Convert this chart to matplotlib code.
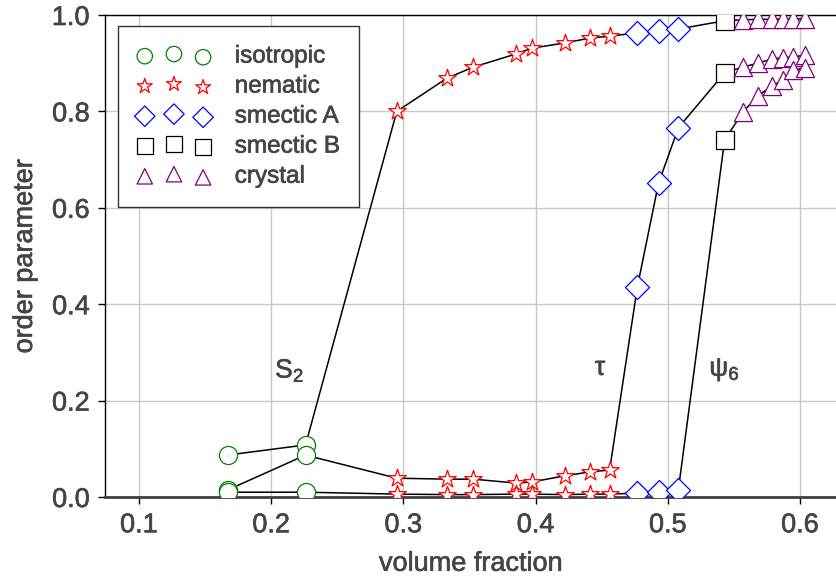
import matplotlib
matplotlib.use('Agg')
import matplotlib.pyplot as plt
import matplotlib.patheffects as pe

plt.rcParams['font.family'] = ['Liberation Sans', 'DejaVu Sans']
plt.rcParams['mathtext.default'] = 'regular'

# ---- data ----
phases = ['isotropic', 'nematic', 'smectic A', 'smectic B', 'crystal']

x_iso = [0.167, 0.226]
x_nem = [0.295, 0.333, 0.353, 0.385, 0.397, 0.422, 0.441, 0.456]
x_smA = [0.477, 0.493, 0.508]
x_smB = [0.543]
x_cry = [0.557, 0.568, 0.579, 0.587, 0.595, 0.604]

S2_iso = [0.087, 0.108]
S2_nem = [0.800, 0.869, 0.892, 0.919, 0.931, 0.942, 0.952, 0.956]
S2_smA = [0.963, 0.967, 0.971]
S2_smB = [0.988]
S2_cry = [0.990, 0.991, 0.991, 0.992, 0.992, 0.992]

tau_iso = [0.0145, 0.087]
tau_nem = [0.039, 0.037, 0.037, 0.029, 0.031, 0.044, 0.052, 0.056]
tau_smA = [0.436, 0.651, 0.766]
tau_smB = [0.880]
tau_cry = [0.892, 0.900, 0.909, 0.911, 0.913, 0.917]

psi_iso = [0.010, 0.010]
psi_nem = [0.006, 0.005, 0.005, 0.006, 0.006, 0.005, 0.006, 0.006]
psi_smA = [0.008, 0.010, 0.015]
psi_smB = [0.741]
psi_cry = [0.799, 0.832, 0.853, 0.865, 0.886, 0.890]

x_ticks = [0.1, 0.2, 0.3, 0.4, 0.5, 0.6]
y_ticks = [0.0, 0.2, 0.4, 0.6, 0.8, 1.0]

curve_labels = ['S$_2$', 'τ', 'ψ$_6$']
label_x = [0.214, 0.4487, 0.543]
label_y = [0.262, 0.268, 0.265]

# ---- styles ----
phase_x = [x_iso, x_nem, x_smA, x_smB, x_cry]
curves = [
    [S2_iso, S2_nem, S2_smA, S2_smB, S2_cry],
    [tau_iso, tau_nem, tau_smA, tau_smB, tau_cry],
    [psi_iso, psi_nem, psi_smA, psi_smB, psi_cry],
]
markers = ['o', '*', 'D', 's', '^']
colors = ['green', 'red', 'blue', 'black', 'purple']
sizes = [170, 175, 150, 180, 170]

text_color = '#454545'
thick = [pe.withStroke(linewidth=0.45, foreground=text_color)]

fig = plt.figure(figsize=(8.37, 5.8), dpi=100)
ax = fig.add_axes([105/837, 1 - 497/580, 732/837, 482/580])

# lines
for curve in curves:
    xs = [x for px in phase_x for x in px]
    ys = [y for py in curve for y in py]
    ax.plot(xs, ys, color='black', lw=1.1, zorder=2)

# markers
handles = []
for i, name in enumerate(phases):
    xs = phase_x[i] * 3
    ys = curves[0][i] + curves[1][i] + curves[2][i]
    h = ax.scatter(xs, ys, s=sizes[i], marker=markers[i], facecolor='white',
                   edgecolor=colors[i], linewidths=0.9, zorder=3, label=name)
    handles.append(h)

for t, lx, ly in zip(curve_labels, label_x, label_y):
    ax.text(lx, ly, t, fontsize=19, color=text_color, ha='center', va='center',
            path_effects=thick)

ax.set_xlim(0.0743, 0.628)
ax.set_ylim(0, 1.0)
ax.set_xticks(x_ticks)
ax.set_yticks(y_ticks)
ax.set_xticklabels([f'{v:.1f}' for v in x_ticks])
ax.set_yticklabels([f'{v:.1f}' for v in y_ticks])
ax.grid(True, color='#c8c8c8', lw=1.0, zorder=0)
ax.set_axisbelow(True)

ax.tick_params(direction='out', length=5, width=1, colors='black',
               labelsize=19.5, labelcolor=text_color, pad=6)
for lab in ax.get_xticklabels() + ax.get_yticklabels():
    lab.set_path_effects(thick)
ax.set_xlabel('volume fraction', fontsize=19.5, color=text_color, labelpad=9,
              path_effects=thick)
ax.set_ylabel('order parameter', fontsize=19.5, color=text_color, labelpad=10,
              path_effects=thick)

ax.spines['right'].set_visible(False)
ax.spines['top'].set_linewidth(1.0)
ax.spines['left'].set_linewidth(1.0)
ax.spines['bottom'].set_linewidth(2.0)
ax.spines['bottom'].set_color('#404040')

leg = ax.legend(handles=handles, loc='upper left', bbox_to_anchor=(0.0178, 0.977),
                borderaxespad=0, scatterpoints=3, markerscale=0.85, fontsize=17.5,
                handlelength=3.0, handletextpad=1.0, labelspacing=0.33,
                borderpad=0.8, fancybox=False, framealpha=1)
leg.get_frame().set_edgecolor('#333333')
leg.get_frame().set_linewidth(1.0)
for txt in leg.get_texts():
    txt.set_color(text_color)
    txt.set_path_effects(thick)

fig.savefig('out.png', dpi=100)
